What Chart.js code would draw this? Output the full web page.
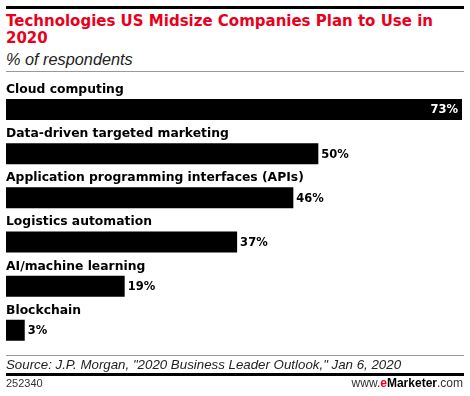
<!DOCTYPE html>
<html>
<head>
<meta charset="utf-8">
<script src="https://cdn.jsdelivr.net/npm/chart.js@4"></script>
<style>
  html, body { margin:0; padding:0; background:#fff; }
  body { width:470px; height:396px; position:relative; overflow:hidden; }
  .abs { position:absolute; white-space:nowrap; }
  #topRule { left:6px; top:6px; width:458px; height:3px; background:#000; }
  #title { left:6px; top:13px; font:bold 15px 'DejaVu Sans'; line-height:16.8px; color:#e8001c; }
  #subtitle { left:6px; top:50.3px; font:italic 16.3px 'Liberation Sans'; color:#222; }
  #rule1 { left:6px; top:71px; width:458px; height:1px; background:#999; }
  #rule2 { left:6px; top:355px; width:458px; height:1px; background:#999; }
  #source { left:6px; top:357.3px; font:italic 13.3px 'Liberation Sans'; color:#222; }
  #botRule { left:6px; top:373px; width:458px; height:3px; background:#000; }
  #id { left:6px; top:377px; font:11px 'Liberation Sans'; color:#333; }
  #brand { right:7px; top:376px; font:12px 'Liberation Sans'; color:#333; }
  #brand b { color:#000; }
  #brand .e { color:#e8001c; }
  canvas { position:absolute; left:0; top:0; }
</style>
</head>
<body>
<div class="abs" id="topRule"></div>
<div class="abs" id="title">Technologies US Midsize Companies Plan to Use in<br>2020</div>
<div class="abs" id="subtitle">% of respondents</div>
<div class="abs" id="rule1"></div>
<div style="position:absolute;left:0;top:0;width:470px;height:396px;"><canvas id="c"></canvas></div>
<div class="abs" id="rule2"></div>
<div class="abs" id="source">Source: J.P. Morgan, "2020 Business Leader Outlook," Jan 6, 2020</div>
<div class="abs" id="botRule"></div>
<div class="abs" id="id">252340</div>
<div class="abs" id="brand">www.<b class="e">e</b><b>Marketer</b>.com</div>
<script>
const categories = [
  "Cloud computing",
  "Data-driven targeted marketing",
  "Application programming interfaces (APIs)",
  "Logistics automation",
  "AI/machine learning",
  "Blockchain"
];
const values = [73, 50, 46, 37, 19, 3];
const valueLabels = ["73%", "50%", "46%", "37%", "19%", "3%"];

const labelPlugin = {
  id: 'labelPlugin',
  afterDatasetsDraw(chart) {
    const ctx = chart.ctx;
    const meta = chart.getDatasetMeta(0);
    const area = chart.chartArea;
    ctx.save();
    meta.data.forEach((bar, i) => {
      const top = bar.y - bar.height / 2;
      ctx.font = "bold 12.35px 'DejaVu Sans'";
      ctx.fillStyle = "#000";
      ctx.textAlign = "left";
      ctx.textBaseline = "alphabetic";
      ctx.fillText(categories[i], area.left, top - 6);
      ctx.font = "bold 11.5px 'DejaVu Sans'";
      ctx.textBaseline = "middle";
      const w = ctx.measureText(valueLabels[i]).width;
      if (bar.x + 4 + w > area.right) {
        ctx.fillStyle = "#fff";
        ctx.textAlign = "right";
        ctx.fillText(valueLabels[i], bar.x - 4, bar.y + 1);
      } else {
        ctx.fillStyle = "#000";
        ctx.textAlign = "left";
        ctx.fillText(valueLabels[i], bar.x + 3, bar.y + 1);
      }
    });
    ctx.restore();
  }
};

new Chart(document.getElementById('c'), {
  type: 'bar',
  data: {
    labels: categories,
    datasets: [{
      data: values,
      backgroundColor: '#000',
      borderWidth: 0,
      categoryPercentage: 1,
      barPercentage: 0.475
    }]
  },
  options: {
    indexAxis: 'y',
    responsive: true,
    maintainAspectRatio: false,
    animation: false,
    layout: { padding: { left: 6, right: 8, top: 87.4, bottom: 43.6 } },
    scales: {
      x: { display: false, min: 0, max: 73 },
      y: { display: false }
    },
    plugins: {
      legend: { display: false },
      tooltip: { enabled: false }
    }
  },
  plugins: [labelPlugin]
});
</script>
</body>
</html>
